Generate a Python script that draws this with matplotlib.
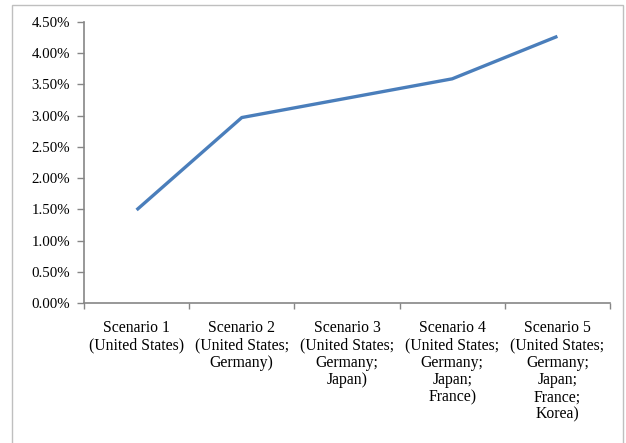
import matplotlib
matplotlib.use("Agg")
import matplotlib.pyplot as plt
from matplotlib.patches import Rectangle
from matplotlib.ticker import FuncFormatter, FixedLocator

categories = [
    "Scenario 1\n(United States)",
    "Scenario 2\n(United States;\nGermany)",
    "Scenario 3\n(United States;\nGermany;\nJapan)",
    "Scenario 4\n(United States;\nGermany;\nJapan;\nFrance)",
    "Scenario 5\n(United States;\nGermany;\nJapan;\nFrance;\nKorea)",
]
values = [0.0149, 0.0297, 0.0328, 0.0359, 0.0427]
y_ticks = [0.0, 0.005, 0.01, 0.015, 0.02, 0.025, 0.03, 0.035, 0.04, 0.045]

plt.rcParams['font.family'] = ['Liberation Serif', 'DejaVu Serif']

fig = plt.figure(figsize=(6.26, 4.43), dpi=100)
ax = fig.add_axes([84/626, 1-303/443, (610-84)/626, (303-22)/443])

x = list(range(1, len(values) + 1))
ax.plot(x, values, color='#4a7ebb', linewidth=2.4, solid_capstyle='butt')

ax.set_xlim(0.5, len(values) + 0.5)
ax.set_ylim(0, 0.045)
ax.yaxis.set_major_locator(FixedLocator(y_ticks))
ax.yaxis.set_major_formatter(FuncFormatter(lambda v, p: f"{v*100:.2f}%"))

ax.xaxis.set_major_locator(FixedLocator([i + 0.5 for i in range(0, len(values) + 1)]))
ax.xaxis.set_major_formatter(FuncFormatter(lambda v, p: ""))
ax.xaxis.set_minor_locator(FixedLocator(x))
ax.set_xticklabels(categories, minor=True)

axis_color = '#868686'
for s in ['top', 'right']:
    ax.spines[s].set_visible(False)
for s in ['left', 'bottom']:
    ax.spines[s].set_color(axis_color)
    ax.spines[s].set_linewidth(1.2)

ax.tick_params(axis='y', which='major', length=5, color=axis_color, width=1.0,
               labelsize=10.7, labelcolor='black', pad=5)
ax.tick_params(axis='x', which='major', length=4, color=axis_color, width=1.0)
ax.tick_params(axis='x', which='minor', length=0, labelsize=11.3, labelcolor='black', pad=12)
for lab in ax.get_xticklabels(minor=True):
    lab.set_horizontalalignment('center')
    lab.set_verticalalignment('top')
    lab.set_multialignment('center')
    lab.set_linespacing(1.12)

fig.patches.append(Rectangle((12/626, -0.01), (623-12)/626, 1 - 5/443 + 0.01,
                             transform=fig.transFigure, fill=False,
                             edgecolor='#bfbfbf', linewidth=1.0))

fig.savefig("out.png", dpi=100)
